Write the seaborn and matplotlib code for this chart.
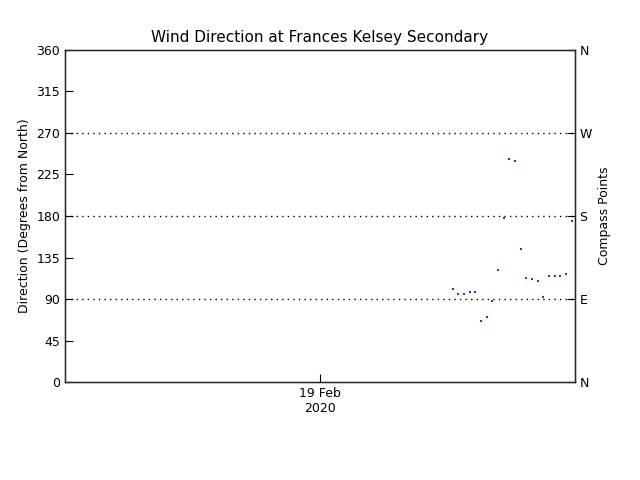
import pandas as pd
import numpy as np
import matplotlib
matplotlib.use("Agg")
import matplotlib.pyplot as plt
import matplotlib.dates as mdates
import seaborn as sns

# wind direction readings on 19 Feb 2020 (about every half hour)
times = pd.date_range("2020-02-19 12:30", periods=22, freq="32min")
direction = [100.5, 95.4, 95.1, 97.9, 97.9, 66.5, 70.8, 88.2, 121.8, 178.2, 242.0,
             239.3, 144.6, 113.1, 111.4, 109.9, 92.5, 115.3, 115.0, 115.0, 117.5, 174.3]
y_ticks = [0, 45, 90, 135, 180, 225, 270, 315, 360]
compass_ticks = [0, 90, 180, 270, 360]
compass_labels = ["N", "E", "S", "W", "N"]

df = pd.DataFrame({"time": times, "direction": direction})

sns.set_style("white")
plt.rcParams["font.family"] = ["DejaVu Sans"]
plt.rcParams["text.color"] = "black"
plt.rcParams["axes.labelcolor"] = "black"
plt.rcParams["xtick.color"] = "black"
plt.rcParams["ytick.color"] = "black"

fig = plt.figure(figsize=(6.4, 4.8), dpi=100)
ax = fig.add_axes([0.1016, 0.204, 0.7964, 0.692])

for lvl in [90, 180, 270]:
    ax.axhline(lvl, color="black", linestyle=(0, (1, 3)), linewidth=1)

sns.scatterplot(data=df, x="time", y="direction", ax=ax, color="#8000ff",
                marker="s", s=3, linewidth=0)

ax.set_xlim(pd.Timestamp("2020-02-18"), pd.Timestamp("2020-02-20"))
ax.set_ylim(0, 360)
ax.set_yticks(y_ticks)
ax.xaxis.set_major_locator(mdates.DayLocator(bymonthday=19))
ax.xaxis.set_major_formatter(mdates.DateFormatter("%d %b\n%Y"))
ax.tick_params(axis="both", direction="in", length=6, labelsize=9, color="black")
ax.tick_params(axis="y", left=True)
ax.tick_params(axis="x", bottom=True)
ax.set_xlabel("")
ax.set_ylabel("Direction (Degrees from North)", fontsize=9)
ax.set_title("Wind Direction at Frances Kelsey Secondary", fontsize=11, color="black")
for s in ax.spines.values():
    s.set_color("black")
    s.set_linewidth(1)

ax2 = ax.twinx()
ax2.set_ylim(0, 360)
ax2.set_yticks(compass_ticks)
ax2.set_yticklabels(compass_labels)
ax2.tick_params(axis="y", direction="in", length=6, labelsize=9, right=True)
ax2.set_ylabel("Compass Points", fontsize=9)

fig.savefig("out.png", dpi=100)
